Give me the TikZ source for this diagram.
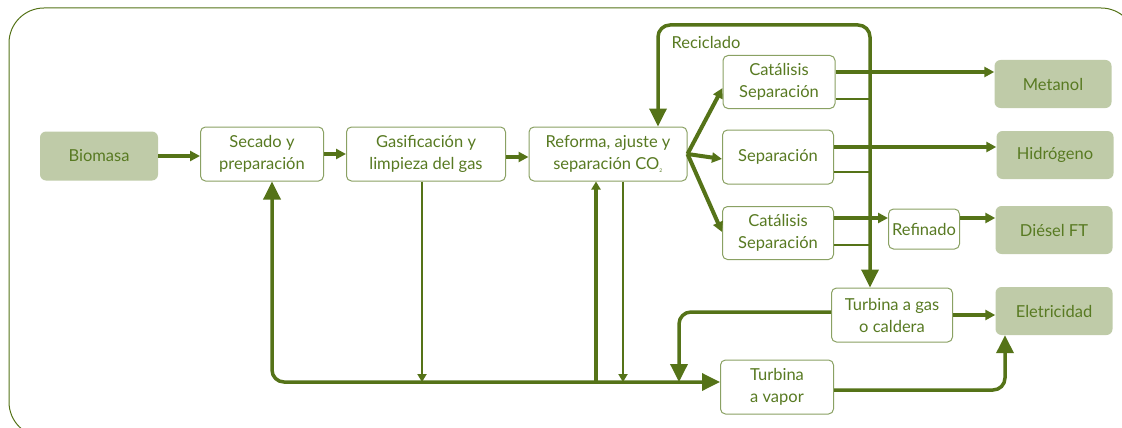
\documentclass[tikz,border=0pt]{standalone}
\usepackage{fontspec}
\setmainfont{Lato}
\usepackage{tikz}
\usetikzlibrary{positioning,arrows.meta,calc}
\definecolor{leaf}{HTML}{557318}
\definecolor{edge}{HTML}{8AA163}
\definecolor{sage}{HTML}{BFCBA8}
\definecolor{ink}{HTML}{587A22}

\begin{document}
\begin{tikzpicture}[
    x=1pt, y=-1pt,
    font=\fontsize{16.5}{22}\selectfont, text=ink,
    box/.style={draw=edge, line width=1pt, fill=white, rounded corners=5pt, minimum height=54pt, align=center, inner sep=2pt},
    term/.style={fill=sage, rounded corners=6pt, minimum width=117pt, minimum height=48pt, align=center},
    arr/.style={-{Triangle[length=10pt, width=10pt]}, line width=4pt, leaf},
    arrthin/.style={-{Triangle[length=8pt, width=9pt]}, line width=2.5pt, leaf},
    big/.style={-{Triangle[length=18pt, width=17pt]}, line width=3.5pt, leaf, rounded corners=12pt},
    tap/.style={line width=1.2pt, leaf}
  ]
    \useasboundingbox (0,0) rectangle (1122,428);
    \draw[leaf, line width=1pt, rounded corners=35pt] (9,8) rectangle (1136,437);

    % feed and main train
    \node[term, minimum width=118pt, minimum height=49pt] (biomasa) at (99,156) {Biomasa};
    \node[box, minimum width=123pt] (secado) at (262,154) {Secado y\\preparación};
    \node[box, minimum width=159pt] (gasif) at (426,154) {Gasificación y\\limpieza del gas};
    \node[box, minimum width=158pt] (reforma) at (608,154) {Reforma, ajuste y\\separación CO\textsubscript{\tiny 2}};

    % synthesis and separation
    \node[box, minimum width=112pt, minimum height=53pt] (sepA) at (779,82) {Catálisis\\Separación};
    \node[box, minimum width=111pt] (sepB) at (778,157) {Separación};
    \node[box, minimum width=111pt, minimum height=53pt] (sepC) at (778,233) {Catálisis\\Separación};
    \node[box, minimum width=71pt, minimum height=40pt, inner sep=1pt] (refin) at (924,229) {Refinado};

    % products
    \node[term] (metanol) at (1053,84) {Metanol};
    \node[term] (hidro) at (1055,155) {Hidrógeno};
    \node[term] (diesel) at (1054,230) {Diésel FT};
    \node[term] (elec) at (1054,311) {Eletricidad};

    % power block
    \node[box, minimum width=121pt] (turbgas) at (892,315) {Turbina a gas\\o caldera};
    \node[box, minimum width=113pt] (turbvap) at (777,387) {Turbina\\a vapor};

    \coordinate (top) at (870,25);
    \coordinate (rec) at (658,25);
    \coordinate (bus) at (0,382);
    \coordinate (drop) at (679,382);

    \draw[arr] (biomasa.east) -- (biomasa.east -| secado.west);
    \draw[arr] (secado.east) -- (gasif.west);
    \draw[arr] ([yshift=-3pt]gasif.east) -- ([yshift=-3pt]gasif.east -| reforma.west);

    \draw[arr] (reforma.east) -- ([yshift=-6pt]sepA.west);
    \draw[arr] (reforma.east) -- ([yshift=-2pt]sepB.west);
    \draw[arr] (reforma.east) -- ([yshift=1pt]sepC.west);

    \draw[arr] ([yshift=10pt]sepA.east) -- ([yshift=10pt]sepA.east -| metanol.west);
    \draw[arr] ([yshift=10pt]sepB.east) -- ([yshift=10pt]sepB.east -| hidro.west);
    \draw[arr] ([yshift=15pt]sepC.east) -- ([yshift=15pt]sepC.east -| refin.west);
    \draw[arr] ([yshift=15pt]sepC.east -| refin.east) -- ([yshift=15pt]sepC.east -| diesel.west);

    % unconverted gas
    \draw[tap] ([yshift=-17pt]sepA.east) -- ([yshift=-17pt]sepA.east -| top);
    \draw[tap] ([yshift=-15pt]sepB.east) -- ([yshift=-15pt]sepB.east -| top);
    \draw[tap] ([yshift=-12pt]sepC.east) -- ([yshift=-12pt]sepC.east -| top);
    \draw[big, {Triangle[length=18pt, width=17pt]}-{Triangle[length=18pt, width=17pt]}]
      (top |- turbgas.north) -- (top) -- (rec) -- (rec |- reforma.north);
    \node[anchor=west] (reciclado) at (668,42) {Reciclado};

    % steam and heat
    \draw[big, {Triangle[length=18pt, width=17pt]}-{Triangle[length=18pt, width=17pt]}]
      ([xshift=10pt]secado.south) |- ([yshift=5pt]turbvap.west);
    \draw[arrthin] ([xshift=-4pt]gasif.south) -- ([xshift=-4pt]gasif.south |- bus);
    \draw[arrthin, line width=3.5pt] ([xshift=-12pt]reforma.south |- bus) -- ([xshift=-12pt]reforma.south);
    \draw[arrthin] ([xshift=15pt]reforma.south) -- ([xshift=15pt]reforma.south |- bus);
    \draw[big] ([yshift=3pt]turbgas.west) -| (drop);
    \draw[arr] (turbgas.east) -- (turbgas.east -| elec.west);
    \draw[big] ([yshift=-3pt]turbvap.east) -| ([xshift=-49pt]elec.south);
  \end{tikzpicture}
\end{document}
